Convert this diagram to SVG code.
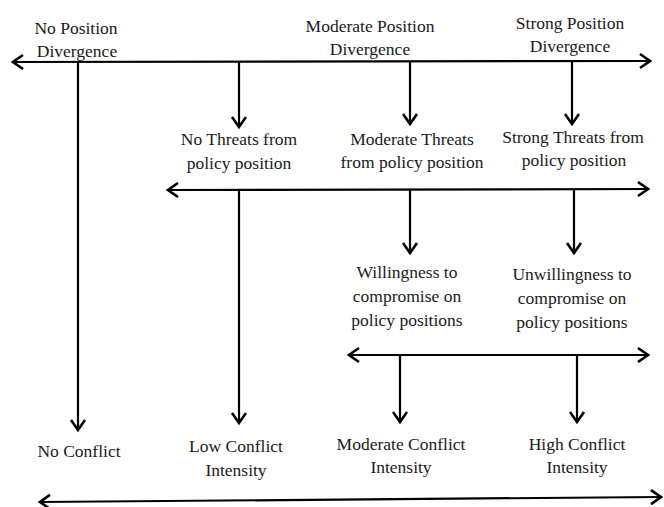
<svg xmlns="http://www.w3.org/2000/svg" width="664" height="507" viewBox="0 0 664 507">
<style>
text{font-family:'Liberation Serif','Times New Roman',serif;font-size:17.5px;fill:#1a1a1a;text-anchor:middle}
.c{stroke:#000;stroke-width:2.2;fill:none}
</style>
<defs>
<marker id="ah" markerUnits="userSpaceOnUse" viewBox="-12 -9 14 18" refX="0" refY="0" markerWidth="14" markerHeight="18" orient="auto-start-reverse">
<path d="M-10,-7 L0,0 L-10,7" fill="none" stroke="#000" stroke-width="2.6" stroke-linejoin="miter"/>
</marker>
</defs>
<rect width="664" height="507" fill="#fff"/>
<g id="connectors">
<line class="c" x1="13" y1="62" x2="650" y2="61" marker-start="url(#ah)" marker-end="url(#ah)"/>
<line class="c" x1="78" y1="62" x2="78" y2="430" marker-end="url(#ah)"/>
<line class="c" x1="239" y1="62" x2="239" y2="127" marker-end="url(#ah)"/>
<line class="c" x1="410" y1="61" x2="410" y2="124" marker-end="url(#ah)"/>
<line class="c" x1="572" y1="61" x2="572" y2="124" marker-end="url(#ah)"/>
<line class="c" x1="168" y1="190" x2="648" y2="189" marker-start="url(#ah)" marker-end="url(#ah)"/>
<line class="c" x1="239" y1="190" x2="239" y2="423" marker-end="url(#ah)"/>
<line class="c" x1="410" y1="190" x2="410" y2="253" marker-end="url(#ah)"/>
<line class="c" x1="574" y1="189" x2="574" y2="253" marker-end="url(#ah)"/>
<line class="c" x1="349" y1="355" x2="648" y2="355" marker-start="url(#ah)" marker-end="url(#ah)"/>
<line class="c" x1="400" y1="355" x2="400" y2="422" marker-end="url(#ah)"/>
<line class="c" x1="577" y1="355" x2="577" y2="422" marker-end="url(#ah)"/>
<line class="c" x1="40" y1="502" x2="661" y2="497" marker-start="url(#ah)" marker-end="url(#ah)"/>
</g>
<g id="no-position-divergence"><text x="76" y="34">No Position</text><text x="77" y="57">Divergence</text></g>
<g id="moderate-position-divergence"><text x="370" y="32">Moderate Position</text><text x="370" y="55">Divergence</text></g>
<g id="strong-position-divergence"><text x="570" y="29">Strong Position</text><text x="570" y="52">Divergence</text></g>
<g id="no-threats"><text x="239" y="145">No Threats from</text><text x="239" y="169">policy position</text></g>
<g id="moderate-threats"><text x="412" y="145">Moderate Threats</text><text x="412" y="168">from policy position</text></g>
<g id="strong-threats"><text x="573" y="143">Strong Threats from</text><text x="574" y="166">policy position</text></g>
<g id="willingness"><text x="407" y="278">Willingness to</text><text x="407" y="302">compromise on</text><text x="407" y="326">policy positions</text></g>
<g id="unwillingness"><text x="572" y="280">Unwillingness to</text><text x="572" y="304">compromise on</text><text x="572" y="328">policy positions</text></g>
<g id="no-conflict"><text x="79" y="457">No Conflict</text></g>
<g id="low-conflict"><text x="236" y="452">Low Conflict</text><text x="236" y="476">Intensity</text></g>
<g id="moderate-conflict"><text x="401" y="450">Moderate Conflict</text><text x="401" y="473">Intensity</text></g>
<g id="high-conflict"><text x="577" y="450">High Conflict</text><text x="577" y="473">Intensity</text></g>
</svg>
